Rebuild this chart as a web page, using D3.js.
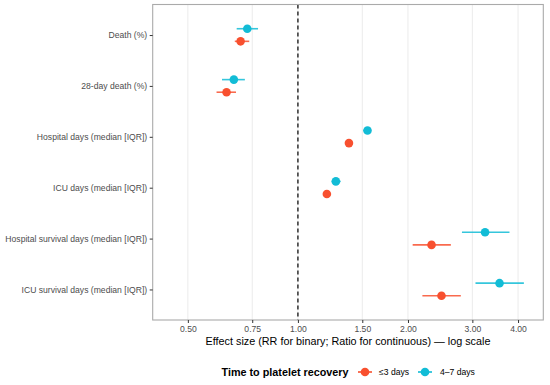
<!DOCTYPE html>
<html>
<head>
<meta charset="utf-8">
<script src="https://cdn.jsdelivr.net/npm/d3@7"></script>
<style>
  body { margin: 0; background: #fff; }
  text { font-family: "Liberation Sans", Arial, Helvetica, sans-serif; }
</style>
</head>
<body>
<svg id="chart" width="550" height="385"></svg>
<script>
const categories = [
  "Death (%)",
  "28-day death (%)",
  "Hospital days (median [IQR])",
  "ICU days (median [IQR])",
  "Hospital survival days (median [IQR])",
  "ICU survival days (median [IQR])"
];
const groups = ["≤3 days", "4–7 days"];
const colors = ["#F8502F", "#12BCD6"];

// ≤3 days
const estA = [0.697, 0.638, 1.379, 1.200, 2.32, 2.47];
const lowA = [0.672, 0.599, 1.365, 1.190, 2.06, 2.19];
const highA = [0.736, 0.677, 1.393, 1.210, 2.62, 2.79];
// 4–7 days
const estB = [0.727, 0.668, 1.55, 1.27, 3.25, 3.56];
const lowB = [0.680, 0.620, 1.51, 1.236, 2.81, 3.06];
const highB = [0.778, 0.716, 1.58, 1.309, 3.79, 4.15];

const xTicks = [0.5, 0.75, 1.0, 1.5, 2.0, 3.0, 4.0];
const xTitle = "Effect size (RR for binary; Ratio for continuous) — log scale";
const legendTitle = "Time to platelet recovery";

const svg = d3.select("#chart");
const P = { left: 152.7, right: 543.3, top: 4.5, bottom: 320 };

const x = d3.scaleLog().domain([0.4007, 4.69]).range([P.left, P.right]);
const y = d3.scalePoint().domain(categories).range([P.top, P.bottom]).padding(0.6);
const dodge = [6.3, -6.3];

// gridlines
svg.append("g").selectAll("line").data(xTicks).join("line")
  .attr("x1", d => x(d)).attr("x2", d => x(d))
  .attr("y1", P.top).attr("y2", P.bottom)
  .attr("stroke", "#EBEBEB").attr("stroke-width", 1);

// reference line
svg.append("line")
  .attr("x1", x(1)).attr("x2", x(1))
  .attr("y1", P.top).attr("y2", P.bottom)
  .attr("stroke", "#222").attr("stroke-width", 1.4)
  .attr("stroke-dasharray", "4,3");

// data
const series = [
  { name: groups[0], est: estA, low: lowA, high: highA, color: colors[0], off: dodge[0] },
  { name: groups[1], est: estB, low: lowB, high: highB, color: colors[1], off: dodge[1] }
];
series.forEach(s => {
  const g = svg.append("g");
  const rows = categories.map((c, i) => ({ c, e: s.est[i], l: s.low[i], h: s.high[i] }));
  g.selectAll("line").data(rows).join("line")
    .attr("x1", d => x(d.l)).attr("x2", d => x(d.h))
    .attr("y1", d => y(d.c) + s.off).attr("y2", d => y(d.c) + s.off)
    .attr("stroke", s.color).attr("stroke-width", 1.6).attr("stroke-opacity", 0.85);
  g.selectAll("circle").data(rows).join("circle")
    .attr("cx", d => x(d.e)).attr("cy", d => y(d.c) + s.off)
    .attr("r", 4.3).attr("fill", s.color);
});

// panel border
svg.append("rect")
  .attr("x", P.left).attr("y", P.top)
  .attr("width", P.right - P.left).attr("height", P.bottom - P.top)
  .attr("fill", "none").attr("stroke", "#AAAAAA").attr("stroke-width", 1.1);

// x axis
const xAxis = svg.append("g").attr("transform", `translate(0,${P.bottom})`)
  .call(d3.axisBottom(x).tickValues(xTicks).tickFormat(d3.format(".2f")).tickSize(3).tickPadding(3));
xAxis.select(".domain").remove();
xAxis.selectAll(".tick line").attr("stroke", "#333");
xAxis.selectAll(".tick text").attr("fill", "#4D4D4D").style("font-size", "8.6px");

// y axis
const yAxis = svg.append("g").attr("transform", `translate(${P.left},0)`)
  .call(d3.axisLeft(y).tickSize(3).tickPadding(2.5));
yAxis.select(".domain").remove();
yAxis.selectAll(".tick line").attr("stroke", "#333");
yAxis.selectAll(".tick text").attr("fill", "#4D4D4D").style("font-size", "8.6px");

// x title
svg.append("text")
  .attr("x", (P.left + P.right) / 2).attr("y", 345)
  .attr("text-anchor", "middle")
  .style("font-size", "10.8px").attr("fill", "#000")
  .text(xTitle);

// legend
const lg = svg.append("g").attr("transform", "translate(0,372)");
lg.append("text").attr("x", 221.5).attr("y", 4)
  .style("font-size", "10.8px").style("font-weight", "bold").attr("fill", "#000")
  .text(legendTitle);
const keyX = [365, 425];
const labX = [379, 440];
[0, 1].forEach(i => {
  lg.append("line").attr("x1", keyX[i] - 7).attr("x2", keyX[i] + 7)
    .attr("y1", 0).attr("y2", 0)
    .attr("stroke", colors[i]).attr("stroke-width", 1.6);
  lg.append("circle").attr("cx", keyX[i]).attr("cy", 0).attr("r", 4.3).attr("fill", colors[i]);
  lg.append("text").attr("x", labX[i]).attr("y", 3)
    .style("font-size", "8.6px").attr("fill", "#000")
    .text(groups[i]);
});
</script>
</body>
</html>
